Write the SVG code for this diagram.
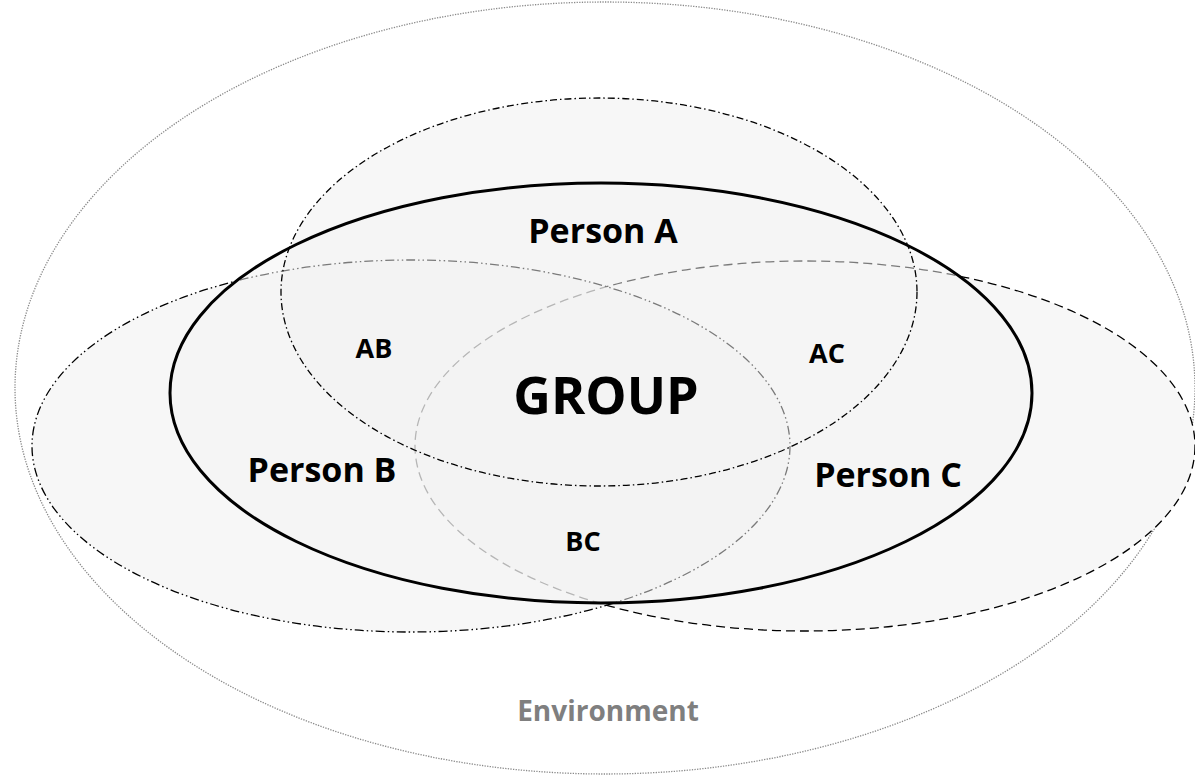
<svg xmlns="http://www.w3.org/2000/svg" width="1195" height="779" viewBox="0 0 1195 779">
<style>
.lbl{font-family:"Open Sans","Liberation Sans",sans-serif;font-weight:700;fill:#000;text-anchor:middle}
.person{font-size:34px}
.pair{font-size:27px}
.grp{font-size:52px}
.env{font-size:28px;fill:#7f7f7f}
.thin{stroke:#000;stroke-width:1.3}
</style>
<rect width="1195" height="779" fill="#ffffff"/>
<g id="environment">
<ellipse cx="605" cy="388" rx="590" ry="386" fill="#ffffff" stroke="#8a8a8a" stroke-width="1.3" stroke-dasharray="1.3 1.3"/>
</g>
<g id="person-a-fill">
<ellipse cx="599" cy="292" rx="318" ry="194" fill="#f7f7f7"/>
</g>
<g id="person-c">
<ellipse class="thin" cx="805" cy="446" rx="390" ry="185" fill="#f7f7f7" stroke-dasharray="9 5"/>
</g>
<g id="person-b">
<ellipse class="thin" cx="411" cy="446" rx="379" ry="186" fill="#efefef" fill-opacity="0.5" stroke-dasharray="9 3 1.5 3 1.5 3"/>
</g>
<g id="group">
<ellipse cx="601" cy="393" rx="431" ry="210" fill="#f4f4f4" fill-opacity="0.5" stroke="#000" stroke-width="3"/>
</g>
<g id="person-a">
<ellipse class="thin" cx="599" cy="292" rx="318" ry="194" fill="none" stroke-dasharray="7 3 1.5 3"/>
</g>
<g id="labels">
<text id="label-person-a" class="lbl person" x="603" y="243">Person A</text>
<text id="label-person-b" class="lbl person" x="322" y="482">Person B</text>
<text id="label-person-c" class="lbl person" x="888" y="487">Person C</text>
<text id="label-ab" class="lbl pair" x="374" y="358">AB</text>
<text id="label-ac" class="lbl pair" x="827" y="363">AC</text>
<text id="label-bc" class="lbl pair" x="583" y="551">BC</text>
<text id="label-group" class="lbl grp" x="606" y="414">GROUP</text>
<text id="label-environment" class="lbl env" x="608" y="721">Environment</text>
</g>
</svg>
